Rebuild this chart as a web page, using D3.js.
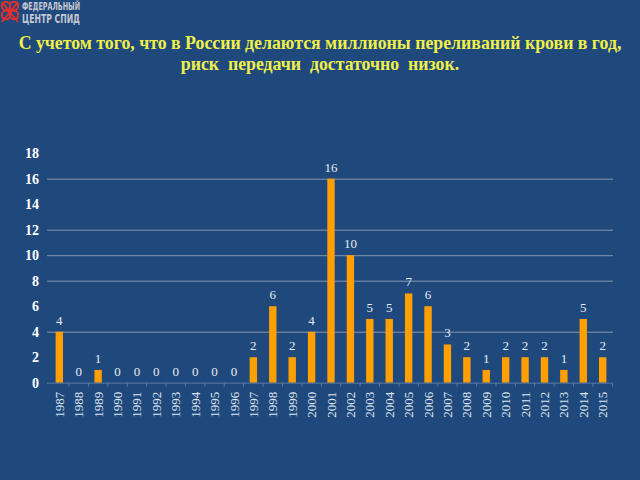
<!DOCTYPE html>
<html><head><meta charset="utf-8">
<script src="https://cdn.jsdelivr.net/npm/d3@7"></script>
<style>
html,body{margin:0;padding:0;background:#1f497d;}
svg{display:block;}
</style></head>
<body>
<svg id="c" width="640" height="480"></svg>
<script>
const years = ["1987","1988","1989","1990","1991","1992","1993","1994","1995","1996","1997","1998","1999","2000","2001","2002","2003","2004","2005","2006","2007","2008","2009","2010","2011","2012","2013","2014","2015"];
const cases = [4,0,1,0,0,0,0,0,0,0,2,6,2,4,16,10,5,5,7,6,3,2,1,2,2,2,1,5,2];
const yTicks = [0,2,4,6,8,10,12,14,16,18];
const gridValues = [4,8,10,12,16];
const titleLines = ["С учетом того, что в России делаются миллионы переливаний крови в год,","риск  передачи  достаточно  низок."];
const logoLines = ["ФЕДЕРАЛЬНЫЙ","ЦЕНТР СПИД"];

const svg = d3.select("#c");
svg.append("rect").attr("width",640).attr("height",480).attr("fill","#1f497d");

// logo
const logo = svg.append("g");
const red = "#e0302c";
[[4,6],[12,6],[4,15],[12,15]].forEach(([cx,cy])=>{
  logo.append("circle").attr("cx",cx+2).attr("cy",cy).attr("r",4.2).attr("fill","none").attr("stroke",red).attr("stroke-width",2);
});
logo.append("path").attr("d","M2,22 L18,2 M2,2 L18,22").attr("stroke",red).attr("stroke-width",2).attr("fill","none");
logo.selectAll("text.logo").data(logoLines).join("text")
  .attr("x",22).attr("y",(d,i)=>10+i*13)
  .attr("font-family","'DejaVu Sans Condensed','Liberation Sans Narrow',sans-serif")
  .attr("font-weight","bold").attr("font-size",(d,i)=>i?12:10)
  .attr("textLength",58).attr("lengthAdjust","spacingAndGlyphs")
  .attr("fill","#c4c8d2").text(d=>d);

// title
svg.selectAll("text.title").data(titleLines).join("text")
  .attr("class","title")
  .attr("x",320).attr("y",(d,i)=>49+i*21)
  .attr("text-anchor","middle")
  .style("white-space","pre")
  .attr("font-family","'Liberation Serif','Times New Roman',serif")
  .attr("font-weight","bold").attr("font-size",17.8)
  .attr("fill","#f0f048").text(d=>d);

const x = d3.scaleBand().domain(years).range([49.6,612.4]).paddingInner(0.62).paddingOuter(0.31);
const y = d3.scaleLinear().domain([0,18]).range([382.7,153.2]);

// gridlines
svg.append("g").selectAll("line").data(gridValues).join("line")
  .attr("x1",47).attr("x2",613)
  .attr("y1",d=>y(d)+0.5).attr("y2",d=>y(d)+0.5)
  .attr("stroke","#8796ad").attr("stroke-width",1);

// y axis labels
const yAxis = d3.axisLeft(y).tickValues(yTicks).tickSize(0).tickPadding(0);
const ya = svg.append("g").attr("transform","translate(39,0)").call(yAxis);
ya.select(".domain").remove();
ya.selectAll("text").attr("font-family","'Liberation Serif','Times New Roman',serif")
  .attr("font-weight","bold").attr("font-size",14).attr("fill","#ffffff");

// bars
svg.append("g").selectAll("rect").data(years).join("rect")
  .attr("x",d=>x(d)).attr("width",x.bandwidth())
  .attr("y",(d,i)=>y(cases[i])).attr("height",(d,i)=>y(0)-y(cases[i]))
  .attr("fill","#ffa000");

// x axis
const step = x.step();
const xAxis = d3.axisBottom(x).tickSize(0).tickPadding(0);
const xa = svg.append("g").attr("transform",`translate(0,${y(0)})`).call(xAxis);
xa.select(".domain").attr("stroke","#5a79a3").attr("stroke-width",1).attr("d",`M47,0.5H613`);
xa.selectAll(".tick").append("line")
  .attr("x1",step/2).attr("x2",step/2).attr("y1",0).attr("y2",4)
  .attr("stroke","#5a79a3");
xa.selectAll("text")
  .attr("transform","rotate(-90)")
  .attr("x",-9).attr("y",0).attr("dy","0.35em")
  .attr("text-anchor","end")
  .attr("font-family","'Liberation Serif','Times New Roman',serif")
  .attr("font-size",13).attr("fill","#dfe3ec");

// value labels
svg.append("g").selectAll("text").data(years).join("text")
  .attr("x",d=>x(d)+x.bandwidth()/2)
  .attr("y",(d,i)=>y(cases[i])-7)
  .attr("text-anchor","middle")
  .attr("font-family","'Liberation Serif','Times New Roman',serif")
  .attr("font-size",13).attr("fill","#e8ecf2")
  .text((d,i)=>cases[i]);
</script>
</body></html>
